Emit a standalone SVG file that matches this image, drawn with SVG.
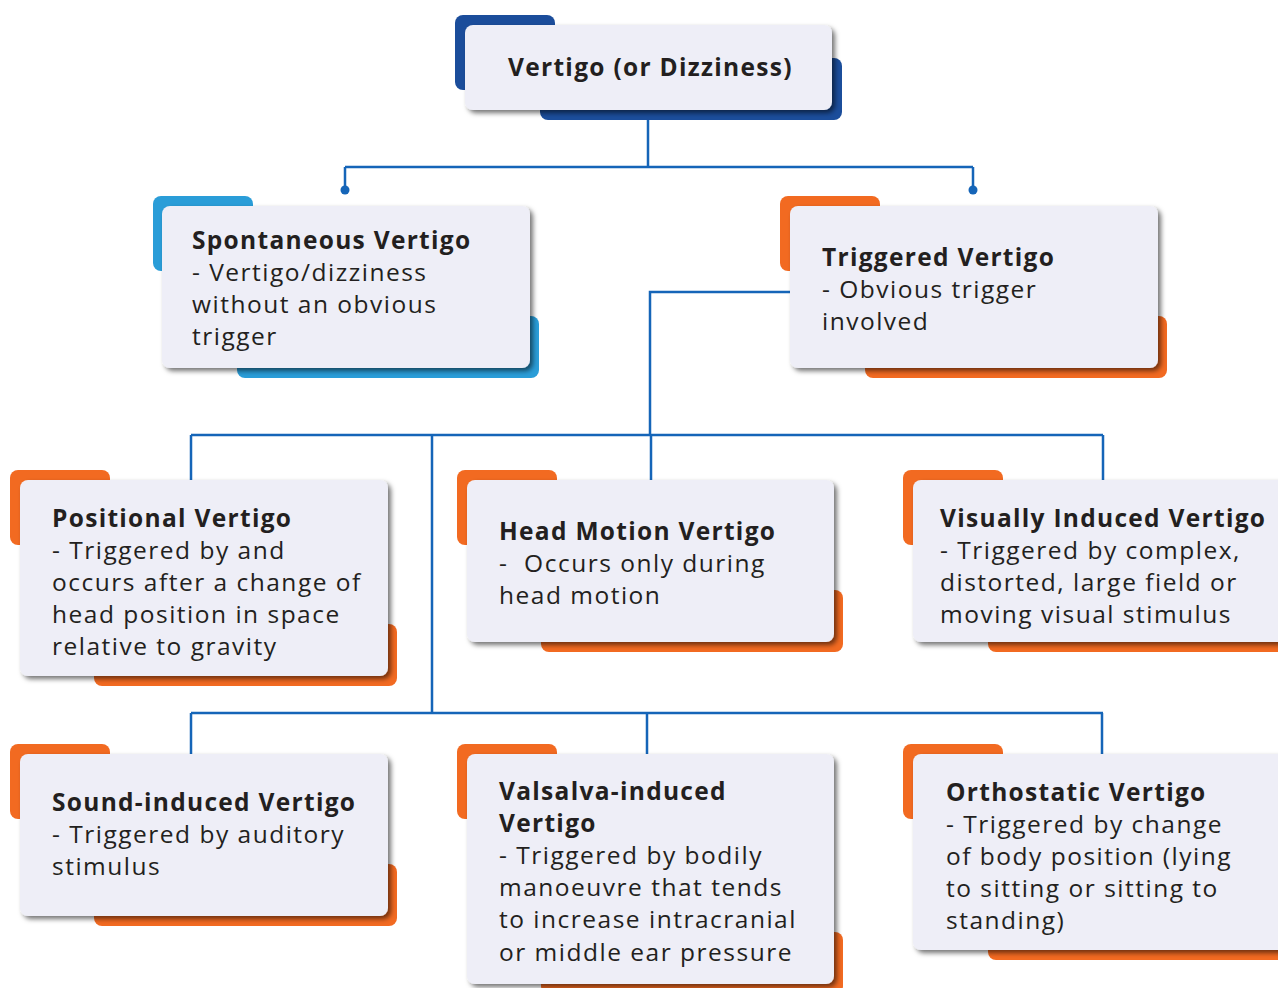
<svg xmlns="http://www.w3.org/2000/svg" width="1278" height="988" viewBox="0 0 1278 988">
<defs>
<filter id="sh" x="-10%" y="-10%" width="125%" height="130%">
<feDropShadow dx="3" dy="3" stdDeviation="2.5" flood-color="#000" flood-opacity="0.55"/>
</filter>
</defs>
<style>
.card{fill:#EEEEF7;filter:url(#sh)}
.navy{fill:#1B4D9B}
.sky{fill:#2A9DD8}
.org{fill:#F26A21}
.t{font-family:"Open Sans","Noto Sans",sans-serif;font-size:24.5px;fill:#231F20;letter-spacing:1.5px}
.b{font-weight:bold;letter-spacing:1.3px}
.ln{stroke:#1565B8;stroke-width:2.5;fill:none}
.dot{fill:#1565B8}
</style>
<rect width="1278" height="988" fill="#fff"/>
<g id="connectors">
<path class="ln" d="M648 110V167M345 167H973M345 167V190M973 167V190"/>
<circle class="dot" cx="345" cy="190" r="4.5"/>
<circle class="dot" cx="973" cy="190" r="4.5"/>
<path class="ln" d="M790 292H650V435M191 435H1103M191 435V480M651 435V480M1103 435V480M432 435V713M191 713H1103M191 713V754M647 713V754M1102 713V754"/>
</g>
<g id="root">
<rect class="navy" x="455" y="15" width="100" height="75" rx="8"/>
<rect class="navy" x="540" y="58" width="302" height="62" rx="8"/>
<rect class="card" x="465" y="25" width="367" height="85" rx="8"/>
<text class="t b" x="508" y="76">Vertigo (or Dizziness)</text>
</g>
<g id="spontaneous">
<rect class="sky" x="153" y="196" width="100" height="75" rx="8"/>
<rect class="sky" x="237" y="316" width="302" height="62" rx="8"/>
<rect class="card" x="162" y="206" width="368" height="162" rx="8"/>
<text class="t" x="192" y="249"><tspan class="b">Spontaneous Vertigo</tspan><tspan x="192" y="281">- Vertigo/dizziness</tspan><tspan x="192" y="313">without an obvious</tspan><tspan x="192" y="345">trigger</tspan></text>
</g>
<g id="triggered">
<rect class="org" x="780" y="196" width="100" height="75" rx="8"/>
<rect class="org" x="865" y="316" width="302" height="62" rx="8"/>
<rect class="card" x="790" y="206" width="368" height="162" rx="8"/>
<text class="t" x="822" y="266"><tspan class="b">Triggered Vertigo</tspan><tspan x="822" y="298">- Obvious trigger</tspan><tspan x="822" y="330">involved</tspan></text>
</g>
<g id="positional">
<rect class="org" x="10" y="470" width="100" height="75" rx="8"/>
<rect class="org" x="94" y="624" width="303" height="62" rx="8"/>
<rect class="card" x="20" y="480" width="368" height="196" rx="8"/>
<text class="t" x="52" y="527"><tspan class="b">Positional Vertigo</tspan><tspan x="52" y="559">- Triggered by and</tspan><tspan x="52" y="591">occurs after a change of</tspan><tspan x="52" y="623">head position in space</tspan><tspan x="52" y="655">relative to gravity</tspan></text>
</g>
<g id="headmotion">
<rect class="org" x="457" y="470" width="100" height="75" rx="8"/>
<rect class="org" x="541" y="590" width="302" height="62" rx="8"/>
<rect class="card" x="467" y="480" width="367" height="162" rx="8"/>
<text class="t" x="499" y="540" xml:space="preserve"><tspan class="b">Head Motion Vertigo</tspan><tspan x="499" y="572">-  Occurs only during</tspan><tspan x="499" y="604">head motion</tspan></text>
</g>
<g id="visual">
<rect class="org" x="903" y="470" width="100" height="75" rx="8"/>
<rect class="org" x="988" y="590" width="302" height="62" rx="8"/>
<rect class="card" x="913" y="480" width="375" height="162" rx="8"/>
<text class="t" x="940" y="527"><tspan class="b">Visually Induced Vertigo</tspan><tspan x="940" y="559">- Triggered by complex,</tspan><tspan x="940" y="591">distorted, large field or</tspan><tspan x="940" y="623">moving visual stimulus</tspan></text>
</g>
<g id="sound">
<rect class="org" x="10" y="744" width="100" height="75" rx="8"/>
<rect class="org" x="94" y="864" width="303" height="62" rx="8"/>
<rect class="card" x="20" y="754" width="368" height="162" rx="8"/>
<text class="t" x="52" y="811"><tspan class="b">Sound-induced Vertigo</tspan><tspan x="52" y="843">- Triggered by auditory</tspan><tspan x="52" y="875">stimulus</tspan></text>
</g>
<g id="valsalva">
<rect class="org" x="457" y="744" width="100" height="75" rx="8"/>
<rect class="org" x="541" y="932" width="302" height="62" rx="8"/>
<rect class="card" x="467" y="754" width="367" height="230" rx="8"/>
<text class="t" x="499" y="800"><tspan class="b">Valsalva-induced</tspan><tspan class="b" x="499" y="832">Vertigo</tspan><tspan x="499" y="864">- Triggered by bodily</tspan><tspan x="499" y="896">manoeuvre that tends</tspan><tspan x="499" y="928">to increase intracranial</tspan><tspan x="499" y="961">or middle ear pressure</tspan></text>
</g>
<g id="orthostatic">
<rect class="org" x="903" y="744" width="100" height="75" rx="8"/>
<rect class="org" x="988" y="898" width="302" height="62" rx="8"/>
<rect class="card" x="913" y="754" width="375" height="196" rx="8"/>
<text class="t" x="946" y="801"><tspan class="b">Orthostatic Vertigo</tspan><tspan x="946" y="833">- Triggered by change</tspan><tspan x="946" y="865">of body position (lying</tspan><tspan x="946" y="897">to sitting or sitting to</tspan><tspan x="946" y="929">standing)</tspan></text>
</g>
</svg>
